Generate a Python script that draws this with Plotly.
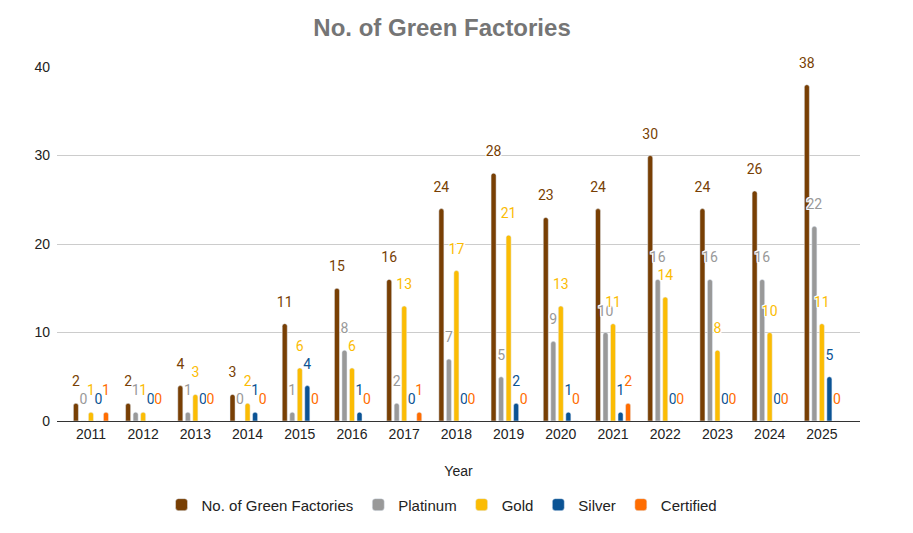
import plotly.graph_objects as go

years = ["2011", "2012", "2013", "2014", "2015", "2016", "2017", "2018",
         "2019", "2020", "2021", "2022", "2023", "2024", "2025"]
total = [2, 2, 4, 3, 11, 15, 16, 24, 28, 23, 24, 30, 24, 26, 38]
platinum = [0, 1, 1, 0, 1, 8, 2, 7, 5, 9, 10, 16, 16, 16, 22]
gold = [1, 1, 3, 2, 6, 6, 13, 17, 21, 13, 11, 14, 8, 10, 11]
silver = [0, 0, 0, 1, 4, 1, 0, 0, 2, 1, 1, 0, 0, 0, 5]
certified = [1, 0, 0, 0, 0, 0, 1, 0, 0, 0, 2, 0, 0, 0, 0]

series = [
    ("No. of Green Factories", total, "#783f04"),
    ("Platinum", platinum, "#999999"),
    ("Gold", gold, "#fbbc04"),
    ("Silver", silver, "#0b5394"),
    ("Certified", certified, "#ff6d01"),
]

halo = "1px 1px 0 #fff, -1px -1px 0 #fff, 1px -1px 0 #fff, -1px 1px 0 #fff, 0 1px 0 #fff, 0 -1px 0 #fff, 1px 0 0 #fff, -1px 0 0 #fff"
ARIAL = "Liberation Sans, Arial, sans-serif"

fig = go.Figure()
for i, (name, vals, col) in enumerate(series):
    fig.add_trace(go.Bar(
        x=years, y=vals, name=name, offsetgroup=str(i),
        marker=dict(color=col, cornerradius=3),
    ))
for i, (name, vals, col) in enumerate(series):
    fig.add_trace(go.Scatter(
        x=years, y=vals, mode="markers+text", offsetgroup=str(i),
        showlegend=False, hoverinfo="skip",
        marker=dict(size=20, color="rgba(0,0,0,0)"),
        text=[str(v) for v in vals], textposition="top center",
        textfont=dict(color=col, size=14, family="Roboto", shadow=halo),
        cliponaxis=False,
    ))

fig.update_layout(
    width=913, height=533,
    paper_bgcolor="white", plot_bgcolor="white",
    margin=dict(l=49, r=61, t=59, b=120),
    barmode="group", bargap=0.28, bargroupgap=0.33,
    scattermode="group", scattergap=0.28,
    font=dict(family=ARIAL, color="#222222", size=14),
    title=dict(text="<b>No. of Green Factories</b>", x=0.4754, xanchor="center",
               y=0.9625, yanchor="middle",
               font=dict(size=24, color="#757575", family=ARIAL)),
    xaxis=dict(title=dict(text="Year", font=dict(size=14, color="#222222"), standoff=25),
               range=[-0.65, 14.73],
               showline=True, linecolor="#333333", linewidth=1,
               tickfont=dict(size=14, color="#222222"), ticks=""),
    yaxis=dict(range=[0, 40], tickvals=[0, 10, 20, 30, 40],
               showgrid=True, gridcolor="#cccccc", zeroline=False,
               tickfont=dict(size=14, color="#222222"), ticklabelstandoff=6),
    legend=dict(orientation="h", x=0.4795, xanchor="center", y=-0.237, yanchor="middle",
                font=dict(size=15, color="#222222"), itemwidth=30),
)

fig.write_html("out.html")
